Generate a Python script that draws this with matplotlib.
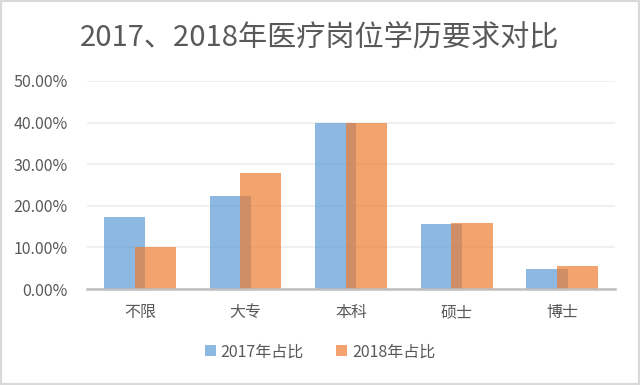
import numpy as np
import matplotlib
matplotlib.use("Agg")
import matplotlib.pyplot as plt
from matplotlib.patches import Rectangle
from matplotlib.ticker import FuncFormatter

plt.rcParams['font.family'] = ['Noto Sans CJK SC', 'DejaVu Sans']

categories = ["不限", "大专", "本科", "硕士", "博士"]
share_2017 = [0.173, 0.224, 0.398, 0.156, 0.048]
share_2018 = [0.101, 0.279, 0.400, 0.159, 0.056]
series_names = ["2017年占比", "2018年占比"]
yticks = [0.0, 0.1, 0.2, 0.3, 0.4, 0.5]

GREY = "#595959"
BLUE = "#5B9BD5"
ORANGE = "#ED7D31"

fig = plt.figure(figsize=(6.4, 3.85), dpi=100)
ax = fig.add_axes([0.136, 0.249, 0.825, 0.541])

x = np.arange(len(categories))
w = 0.39
off = 0.145
ax.bar(x - off, share_2017, w, color=BLUE, alpha=0.7, label=series_names[0], zorder=2)
ax.bar(x + off, share_2018, w, color=ORANGE, alpha=0.7, label=series_names[1], zorder=3)

ax.set_xlim(-0.5, len(categories) - 0.5)
ax.set_ylim(0, 0.5)
ax.set_yticks(yticks)
ax.yaxis.set_major_formatter(FuncFormatter(lambda v, p: f"{v*100:.2f}%"))
ax.set_xticks(x)
ax.set_xticklabels(categories)
ax.tick_params(axis="both", length=0, colors=GREY, labelsize=11.5)
ax.tick_params(axis="x", pad=11)
ax.tick_params(axis="y", pad=14)
ax.grid(axis="y", color="#EDEDED", lw=1.2, zorder=0)
ax.set_axisbelow(True)
for s in ["top", "right", "left"]:
    ax.spines[s].set_visible(False)
ax.spines["bottom"].set_color("#BFBFBF")
ax.spines["bottom"].set_linewidth(1.8)
ax.spines["bottom"].set_zorder(4)

fig.text(0.5, 0.902, "2017、2018年医疗岗位学历要求对比", ha="center", va="center",
         fontsize=21, color=GREY)

fig.legend(loc="center", bbox_to_anchor=(0.5, 0.086), ncol=2, frameon=False,
           fontsize=11.5, labelcolor=GREY, handlelength=0.7, handleheight=0.7,
           handletextpad=0.3, columnspacing=2.0)

fig.patches.append(Rectangle((0, 0), 1, 1, transform=fig.transFigure, fill=False,
                             edgecolor="#D9D9D9", lw=3))

fig.savefig("out.png", dpi=100)
